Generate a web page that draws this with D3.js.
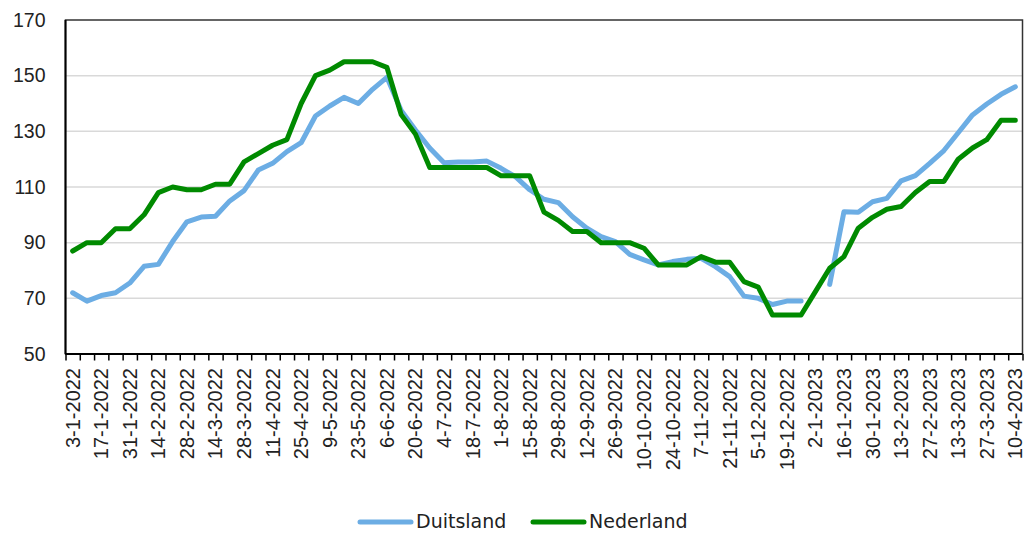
<!DOCTYPE html>
<title>Duitsland vs Nederland</title>
<style>
body { margin: 0; background: #fff; }
svg { display: block; font-family: "DejaVu Sans", Verdana, sans-serif; }
.axis text { fill: #222; }
.axis .domain { display: none; }
</style>
<body>
<svg width="1026" height="533"></svg>
<script src="https://d3js.org/d3.v7.min.js"></script>
<script>

var weeks = ["3-1-2022","10-1-2022","17-1-2022","24-1-2022","31-1-2022",
  "7-2-2022","14-2-2022","21-2-2022","28-2-2022",
  "7-3-2022","14-3-2022","21-3-2022","28-3-2022",
  "4-4-2022","11-4-2022","18-4-2022","25-4-2022",
  "2-5-2022","9-5-2022","16-5-2022","23-5-2022","30-5-2022",
  "6-6-2022","13-6-2022","20-6-2022","27-6-2022",
  "4-7-2022","11-7-2022","18-7-2022","25-7-2022",
  "1-8-2022","8-8-2022","15-8-2022","22-8-2022","29-8-2022",
  "5-9-2022","12-9-2022","19-9-2022","26-9-2022",
  "3-10-2022","10-10-2022","17-10-2022","24-10-2022","31-10-2022",
  "7-11-2022","14-11-2022","21-11-2022","28-11-2022",
  "5-12-2022","12-12-2022","19-12-2022","26-12-2022",
  "2-1-2023","9-1-2023","16-1-2023","23-1-2023","30-1-2023",
  "6-2-2023","13-2-2023","20-2-2023","27-2-2023",
  "6-3-2023","13-3-2023","20-3-2023","27-3-2023",
  "3-4-2023","10-4-2023"];

var duitsland = [72,69,71,72,75.5,81.5,82.2,90.4,97.5,99.2,
  99.5,105,108.7,116.1,118.5,122.7,125.9,135.5,139.1,142.2,
  140,145.1,149.4,137.5,130.5,124,118.7,119,119,119.3,
  116.7,113.7,109,105.6,104.4,99.3,95.2,92.2,90.4,85.8,
  83.8,82,83.2,84,84.4,81.4,77.8,70.8,70,67.8,
  69,69,null,75,101.1,100.9,104.7,105.9,112.2,114.1,
  118.5,123.1,129.5,135.9,139.8,143.3,146];

var nederland = [87,90,90,95,95,100,108,110,109,109,
  111,111,119,122,125,127,140,150,152,155,
  155,155,153,136,129,117,117,117,117,117,
  114,114,114,101,98,94,94,90,90,90,
  88,82,82,82,85,83,83,76,74,64,
  64,64,72.4,80.8,85,95.2,99.1,102,103,108,
  112,112,120,124,127,134,134];

var yTicks = [50,70,90,110,130,150,170];

var series = [
  {name: "Duitsland", values: duitsland, color: "#6cade4"},
  {name: "Nederland", values: nederland, color: "#008a00"}
];

var svg = d3.select("svg"),
    margin = {top: 20, right: 3.5, bottom: 179, left: 65.5},
    width = 1026 - margin.left - margin.right,
    height = 533 - margin.top - margin.bottom,
    g = svg.append("g").attr("transform", "translate(" + margin.left + "," + margin.top + ")");

var x = d3.scaleBand().domain(weeks).range([0, width]).padding(0);
var xi = d3.scaleLinear().domain([0, weeks.length]).range([0, width]);
var y = d3.scaleLinear().domain([50, 170]).range([height, 0]);

// gridlines
g.append("g")
  .selectAll("line")
  .data(yTicks.slice(1, -1))
  .enter().append("line")
    .attr("x1", 0)
    .attr("x2", width)
    .attr("y1", function(d) { return y(d); })
    .attr("y2", function(d) { return y(d); })
    .attr("stroke", "#d9d9d9")
    .attr("stroke-width", 1.5);

// frame
g.append("rect")
  .attr("width", width)
  .attr("height", height)
  .attr("fill", "none")
  .attr("stroke", "#333")
  .attr("stroke-width", 1.5);

// y axis
g.append("g")
  .attr("class", "axis")
  .call(d3.axisLeft(y).tickValues(yTicks).tickSize(0).tickPadding(20))
  .selectAll("text")
    .style("font-size", "19.5px");

// x tick marks at category edges
g.append("g")
  .attr("class", "axis")
  .attr("transform", "translate(0," + height + ")")
  .call(d3.axisBottom(xi).tickValues(d3.range(weeks.length + 1)).tickSize(6.5).tickFormat(""))
  .selectAll("line")
    .attr("stroke", "#000")
    .attr("stroke-width", 1.5);

// x labels every other week
var xAxis = g.append("g")
  .attr("class", "axis")
  .attr("transform", "translate(0," + height + ")")
  .call(d3.axisBottom(x).tickValues(weeks.filter(function(d, i) { return i % 2 == 0; })).tickSize(0));

xAxis.selectAll("text")
  .style("font-size", "20px")
  .attr("text-anchor", "end")
  .attr("dy", "0.35em")
  .attr("transform", "translate(0,14) rotate(-90)")
  .attr("x", 0)
  .attr("y", 0);

// axis lines
g.append("line")
  .attr("x1", 0).attr("x2", 0).attr("y1", 0).attr("y2", height)
  .attr("stroke", "#000").attr("stroke-width", 2);
g.append("line")
  .attr("x1", 0).attr("x2", width).attr("y1", height).attr("y2", height)
  .attr("stroke", "#000").attr("stroke-width", 2);

var line = d3.line()
  .defined(function(d) { return d != null; })
  .x(function(d, i) { return x(weeks[i]) + x.bandwidth() / 2; })
  .y(function(d) { return y(d); });

g.selectAll(".serie")
  .data(series)
  .enter().append("path")
    .attr("class", "serie")
    .attr("fill", "none")
    .attr("stroke", function(d) { return d.color; })
    .attr("stroke-width", 5)
    .attr("stroke-linejoin", "round")
    .attr("stroke-linecap", "round")
    .attr("d", function(d) { return line(d.values); });

// legend
var legend = svg.append("g")
  .selectAll("g")
  .data(series)
  .enter().append("g")
    .attr("transform", function(d, i) { return "translate(" + (360 + i * 173) + ",522)"; });

legend.append("line")
  .attr("x1", 0).attr("x2", 51)
  .attr("stroke", function(d) { return d.color; })
  .attr("stroke-width", 5)
  .attr("stroke-linecap", "round");

legend.append("text")
  .attr("x", 56)
  .attr("y", 6)
  .style("font-size", "19px")
  .attr("fill", "#222")
  .text(function(d) { return d.name; });

</script>
</body>
